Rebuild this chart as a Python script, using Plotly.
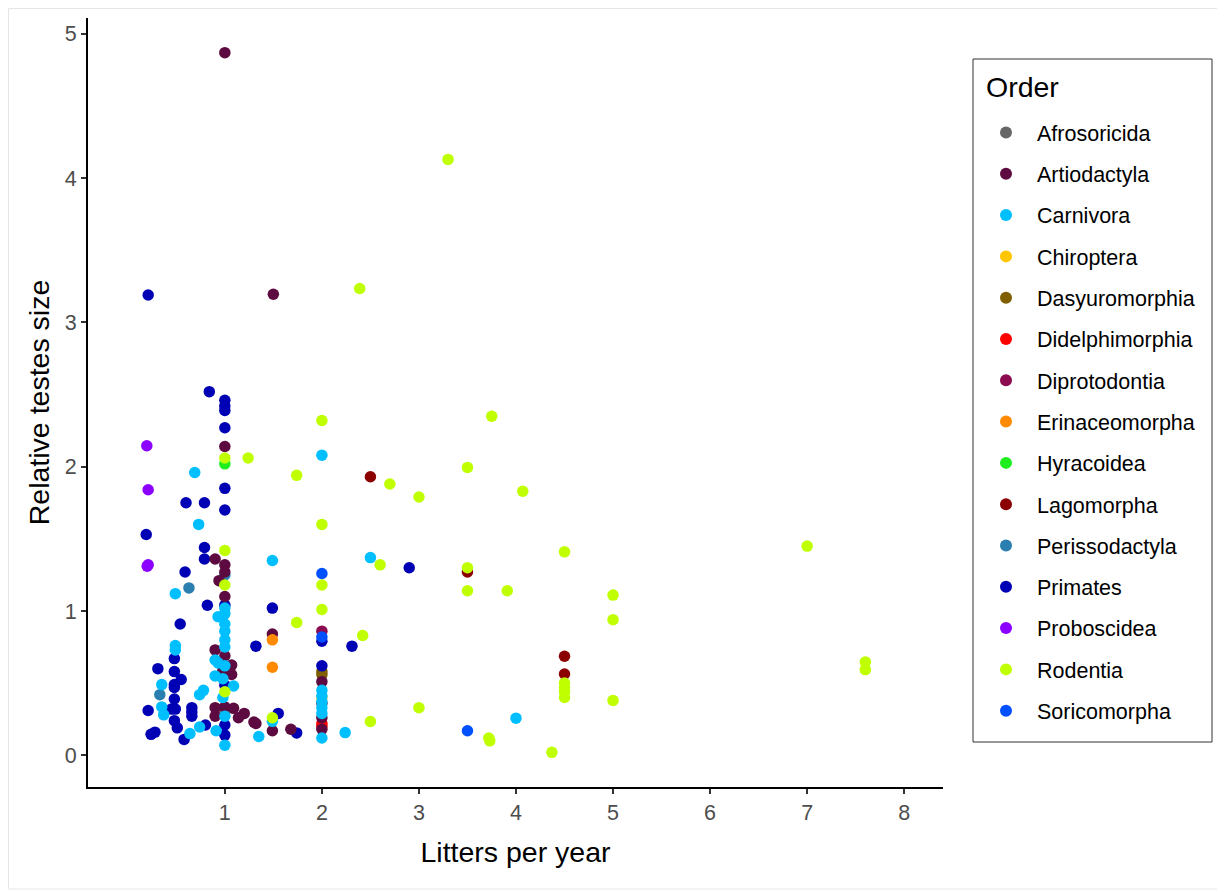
import plotly.graph_objects as go

# ---- data ----
orders = ["Afrosoricida", "Artiodactyla", "Carnivora", "Chiroptera", "Dasyuromorphia",
          "Didelphimorphia", "Diprotodontia", "Erinaceomorpha", "Hyracoidea", "Lagomorpha",
          "Perissodactyla", "Primates", "Proboscidea", "Rodentia", "Soricomorpha"]

colors = {
    "Afrosoricida": "#666666", "Artiodactyla": "#5C0A3F", "Carnivora": "#00BFFF",
    "Chiroptera": "#FFC600", "Dasyuromorphia": "#7F5F00", "Didelphimorphia": "#FF0000",
    "Diprotodontia": "#8B0A50", "Erinaceomorpha": "#FF8A00", "Hyracoidea": "#1EEE1E",
    "Lagomorpha": "#8B0000", "Perissodactyla": "#2A7FB0", "Primates": "#0000B4",
    "Proboscidea": "#8B00FF", "Rodentia": "#BFFF00", "Soricomorpha": "#0050FF",
}

afro_x = [1.0]
afro_y = [0.30]

artio_x = [1.0, 1.5, 1.0, 0.90, 1.0, 1.0, 0.94, 1.0, 1.49, 0.90, 1.0, 0.98, 1.07, 1.07,
           1.0, 0.90, 0.90, 1.09, 1.20, 1.14, 1.30, 1.32, 1.49, 1.68, 2.0, 2.0, 2.0, 2.0]
artio_y = [4.87, 3.195, 2.14, 1.36, 1.32, 1.27, 1.21, 1.10, 0.84, 0.73, 0.69, 0.59, 0.625, 0.56,
           0.335, 0.33, 0.27, 0.325, 0.29, 0.26, 0.23, 0.22, 0.17, 0.18, 0.51, 0.36, 0.18, 0.26]

carn_x = [0.69, 2.0, 0.73, 1.49, 2.5, 0.49, 1.0, 1.0, 0.93, 1.0, 1.0, 1.0, 1.0, 0.49, 0.49,
          0.90, 1.0, 0.93, 0.90, 0.98, 1.09, 0.35, 0.78, 0.74, 0.98, 0.35, 0.37, 1.0, 0.64,
          0.74, 0.91, 1.0, 1.35, 1.49, 2.24, 4.0, 2.0, 2.0, 2.0, 2.0, 2.0, 2.0]
carn_y = [1.96, 2.08, 1.60, 1.35, 1.37, 1.12, 1.02, 0.98, 0.96, 0.91, 0.86, 0.80, 0.75, 0.76, 0.73,
          0.66, 0.62, 0.64, 0.55, 0.53, 0.48, 0.49, 0.45, 0.42, 0.40, 0.335, 0.28, 0.27, 0.15,
          0.196, 0.17, 0.07, 0.13, 0.235, 0.157, 0.257, 0.45, 0.41, 0.37, 0.33, 0.29, 0.12]

chiro_x = [2.0]
chiro_y = [0.40]

dasy_x = [2.0, 2.0]
dasy_y = [0.58, 0.56]

didel_x = [2.0, 2.0]
didel_y = [0.22, 0.20]

dipro_x = [2.0]
dipro_y = [0.86]

erin_x = [1.49, 1.49]
erin_y = [0.80, 0.61]

hyra_x = [1.0]
hyra_y = [2.02]

lago_x = [2.5, 3.5, 4.5, 4.5]
lago_y = [1.93, 1.27, 0.686, 0.563]

peri_x = [0.63, 0.33, 1.0]
peri_y = [1.16, 0.42, 1.25]

prim_x = [0.21, 0.84, 1.0, 1.0, 1.0, 1.0, 1.0, 0.60, 0.79, 1.0, 0.19, 0.79, 0.79, 0.59, 0.82,
          1.49, 0.54, 1.32, 0.48, 0.31, 0.48, 0.55, 0.48, 0.48, 1.0, 0.48, 0.21, 0.45, 0.49,
          0.66, 0.66, 0.66, 0.48, 0.51, 0.80, 0.24, 0.28, 0.58, 1.0, 1.0, 1.55, 1.74, 2.0,
          2.0, 2.31, 2.9, 1.0]
prim_y = [3.19, 2.52, 2.46, 2.42, 2.39, 2.27, 1.85, 1.75, 1.75, 1.70, 1.53, 1.44, 1.36, 1.27, 1.04,
          1.02, 0.91, 0.756, 0.67, 0.60, 0.58, 0.525, 0.49, 0.47, 0.485, 0.39, 0.31, 0.32, 0.32,
          0.33, 0.30, 0.27, 0.24, 0.19, 0.21, 0.145, 0.16, 0.11, 0.21, 0.14, 0.29, 0.155, 0.79,
          0.62, 0.756, 1.30, 1.04]

probo_x = [0.196, 0.21, 0.20, 0.21]
probo_y = [2.145, 1.84, 1.31, 1.32]

rod_x = [3.30, 2.39, 3.75, 2.0, 1.0, 1.24, 3.5, 1.74, 2.7, 4.07, 3.0, 2.0, 1.0, 4.5, 2.6, 3.5,
         1.0, 2.0, 3.5, 3.91, 5.0, 2.0, 5.0, 1.74, 2.42, 4.5, 4.5, 4.5, 4.5, 5.0, 3.0, 2.5,
         1.49, 3.72, 3.73, 4.37, 7.0, 7.6, 7.6, 1.0]
rod_y = [4.13, 3.235, 2.35, 2.32, 2.06, 2.06, 1.995, 1.94, 1.88, 1.83, 1.79, 1.60, 1.42, 1.41,
         1.32, 1.30, 1.18, 1.18, 1.14, 1.14, 1.11, 1.01, 0.94, 0.92, 0.83, 0.50, 0.47, 0.44,
         0.40, 0.38, 0.33, 0.234, 0.26, 0.12, 0.10, 0.02, 1.45, 0.647, 0.594, 0.44]

sori_x = [2.0, 2.0, 3.5]
sori_y = [1.26, 0.82, 0.17]

series = {
    "Afrosoricida": (afro_x, afro_y), "Artiodactyla": (artio_x, artio_y),
    "Carnivora": (carn_x, carn_y), "Chiroptera": (chiro_x, chiro_y),
    "Dasyuromorphia": (dasy_x, dasy_y), "Didelphimorphia": (didel_x, didel_y),
    "Diprotodontia": (dipro_x, dipro_y), "Erinaceomorpha": (erin_x, erin_y),
    "Hyracoidea": (hyra_x, hyra_y), "Lagomorpha": (lago_x, lago_y),
    "Perissodactyla": (peri_x, peri_y), "Primates": (prim_x, prim_y),
    "Proboscidea": (probo_x, probo_y), "Rodentia": (rod_x, rod_y),
    "Soricomorpha": (sori_x, sori_y),
}

draw_order = ["Afrosoricida", "Chiroptera", "Hyracoidea", "Dasyuromorphia", "Didelphimorphia",
              "Diprotodontia", "Perissodactyla", "Primates", "Artiodactyla", "Carnivora",
              "Erinaceomorpha", "Lagomorpha", "Proboscidea", "Rodentia", "Soricomorpha"]

x_ticks = [1, 2, 3, 4, 5, 6, 7, 8]
y_ticks = [0, 1, 2, 3, 4, 5]

FONT = "Liberation Sans, Arial, sans-serif"
W, H = 1225, 892
ML, MR, MT, MB = 80, 290, 10, 113
PW, PH = W - ML - MR, H - MT - MB


def px_x(fx):
    return (fx - ML) / PW


def px_y(fy):
    return (H - MB - fy) / PH


fig = go.Figure()
for name in draw_order:
    xs, ys = series[name]
    fig.add_trace(go.Scatter(
        x=xs, y=ys, mode="markers", name=name,
        legendgroup=name, legendrank=orders.index(name) + 1,
        marker=dict(color=colors[name], size=11.5, line=dict(width=0)),
    ))

axis_common = dict(
    showgrid=False, zeroline=False, showline=True, linecolor="black", linewidth=2,
    ticks="outside", ticklen=5, tickwidth=2, tickcolor="#333333",
    tickfont=dict(family=FONT, size=21.5, color="#4D4D4D"),
)

fig.update_layout(
    width=W, height=H,
    paper_bgcolor="white", plot_bgcolor="white",
    margin=dict(l=ML, r=MR, t=MT, b=MB),
    font=dict(family=FONT, color="black"),
    xaxis=dict(range=[-0.41, 8.40], tickvals=x_ticks,
               title=dict(text="Litters per year", font=dict(family=FONT, size=28.5, color="black"), standoff=18),
               **axis_common),
    yaxis=dict(range=[-0.22, 5.11], tickvals=y_ticks,
               title=dict(text="Relative testes size", font=dict(family=FONT, size=28.5, color="black"), standoff=7),
               **axis_common),
    legend=dict(
        font=dict(family=FONT, size=21.5, color="black"),
        x=px_x(967), y=px_y(104), xanchor="left", yanchor="top",
        borderwidth=0, bgcolor="rgba(0,0,0,0)",
        tracegroupgap=10.35, itemsizing="constant", itemwidth=52,
    ),
    annotations=[dict(text="Order", xref="paper", yref="paper", x=px_x(976), y=px_y(79),
                      xanchor="left", yanchor="middle", showarrow=False,
                      font=dict(family=FONT, size=28.5, color="black"))],
    shapes=[
        dict(type="rect", xref="paper", yref="paper",
             x0=px_x(965), x1=px_x(1204), y0=px_y(734), y1=px_y(51),
             line=dict(color="#333333", width=1), fillcolor="rgba(0,0,0,0)", layer="below"),
        dict(type="rect", xref="paper", yref="paper",
             x0=px_x(0.5), x1=px_x(1210), y0=px_y(881), y1=px_y(0.5),
             line=dict(color="#E6E6E6", width=1), fillcolor="rgba(0,0,0,0)", layer="below"),
    ],
)

fig.write_html("out.html")
